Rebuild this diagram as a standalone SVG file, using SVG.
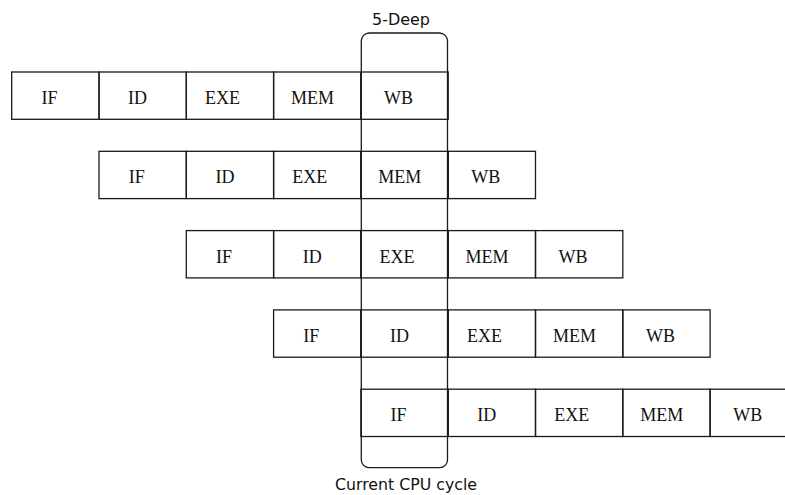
<svg xmlns="http://www.w3.org/2000/svg" width="785" height="495" viewBox="0 0 785 495">
<style>
.c{fill:none;stroke:#1a1a1a;stroke-width:1.3}
.t{font-family:"Liberation Serif","Times New Roman",serif;font-size:18px;fill:#111;text-anchor:middle}
.l{font-family:"DejaVu Sans","Liberation Sans",sans-serif;font-size:15px;fill:#111;text-anchor:middle}
</style>
<rect x="0" y="0" width="785" height="495" fill="#fff"/>
<g id="window">
<rect class="c" x="361.3" y="33" width="86.2" height="434.7" rx="8" ry="8"/>
<text class="l" x="401" y="25" textLength="58" lengthAdjust="spacingAndGlyphs">5-Deep</text>
<text class="l" x="406" y="490" textLength="142" lengthAdjust="spacingAndGlyphs">Current CPU cycle</text>
</g>
<g id="row1">
<g id="r1-if"><rect class="c" x="11.7" y="72" width="87.3" height="47.3"/><text class="t" x="49.4" y="104">IF</text></g>
<g id="r1-id"><rect class="c" x="99" y="72" width="87.3" height="47.3"/><text class="t" x="137.6" y="104">ID</text></g>
<g id="r1-exe"><rect class="c" x="186.3" y="72" width="87.3" height="47.3"/><text class="t" x="222.5" y="104">EXE</text></g>
<g id="r1-mem"><rect class="c" x="273.6" y="72" width="87.3" height="47.3"/><text class="t" x="312.5" y="104">MEM</text></g>
<g id="r1-wb"><rect class="c" x="360.9" y="72" width="87.3" height="47.3"/><text class="t" x="398.5" y="104">WB</text></g>
</g>
<g id="row2">
<g id="r2-if"><rect class="c" x="99" y="151.3" width="87.3" height="47.3"/><text class="t" x="136.7" y="183.3">IF</text></g>
<g id="r2-id"><rect class="c" x="186.3" y="151.3" width="87.3" height="47.3"/><text class="t" x="224.9" y="183.3">ID</text></g>
<g id="r2-exe"><rect class="c" x="273.6" y="151.3" width="87.3" height="47.3"/><text class="t" x="309.8" y="183.3">EXE</text></g>
<g id="r2-mem"><rect class="c" x="360.9" y="151.3" width="87.3" height="47.3"/><text class="t" x="399.8" y="183.3">MEM</text></g>
<g id="r2-wb"><rect class="c" x="448.2" y="151.3" width="87.3" height="47.3"/><text class="t" x="485.8" y="183.3">WB</text></g>
</g>
<g id="row3">
<g id="r3-if"><rect class="c" x="186.3" y="230.6" width="87.3" height="47.3"/><text class="t" x="224" y="262.6">IF</text></g>
<g id="r3-id"><rect class="c" x="273.6" y="230.6" width="87.3" height="47.3"/><text class="t" x="312.2" y="262.6">ID</text></g>
<g id="r3-exe"><rect class="c" x="360.9" y="230.6" width="87.3" height="47.3"/><text class="t" x="397.1" y="262.6">EXE</text></g>
<g id="r3-mem"><rect class="c" x="448.2" y="230.6" width="87.3" height="47.3"/><text class="t" x="487.1" y="262.6">MEM</text></g>
<g id="r3-wb"><rect class="c" x="535.5" y="230.6" width="87.3" height="47.3"/><text class="t" x="573.1" y="262.6">WB</text></g>
</g>
<g id="row4">
<g id="r4-if"><rect class="c" x="273.6" y="309.9" width="87.3" height="47.3"/><text class="t" x="311.3" y="341.9">IF</text></g>
<g id="r4-id"><rect class="c" x="360.9" y="309.9" width="87.3" height="47.3"/><text class="t" x="399.5" y="341.9">ID</text></g>
<g id="r4-exe"><rect class="c" x="448.2" y="309.9" width="87.3" height="47.3"/><text class="t" x="484.4" y="341.9">EXE</text></g>
<g id="r4-mem"><rect class="c" x="535.5" y="309.9" width="87.3" height="47.3"/><text class="t" x="574.4" y="341.9">MEM</text></g>
<g id="r4-wb"><rect class="c" x="622.8" y="309.9" width="87.3" height="47.3"/><text class="t" x="660.4" y="341.9">WB</text></g>
</g>
<g id="row5">
<g id="r5-if"><rect class="c" x="360.9" y="389.2" width="87.3" height="47.3"/><text class="t" x="398.6" y="421.2">IF</text></g>
<g id="r5-id"><rect class="c" x="448.2" y="389.2" width="87.3" height="47.3"/><text class="t" x="486.8" y="421.2">ID</text></g>
<g id="r5-exe"><rect class="c" x="535.5" y="389.2" width="87.3" height="47.3"/><text class="t" x="571.7" y="421.2">EXE</text></g>
<g id="r5-mem"><rect class="c" x="622.8" y="389.2" width="87.3" height="47.3"/><text class="t" x="661.7" y="421.2">MEM</text></g>
<g id="r5-wb"><rect class="c" x="710.1" y="389.2" width="87.3" height="47.3"/><text class="t" x="747.7" y="421.2">WB</text></g>
</g>
</svg>
